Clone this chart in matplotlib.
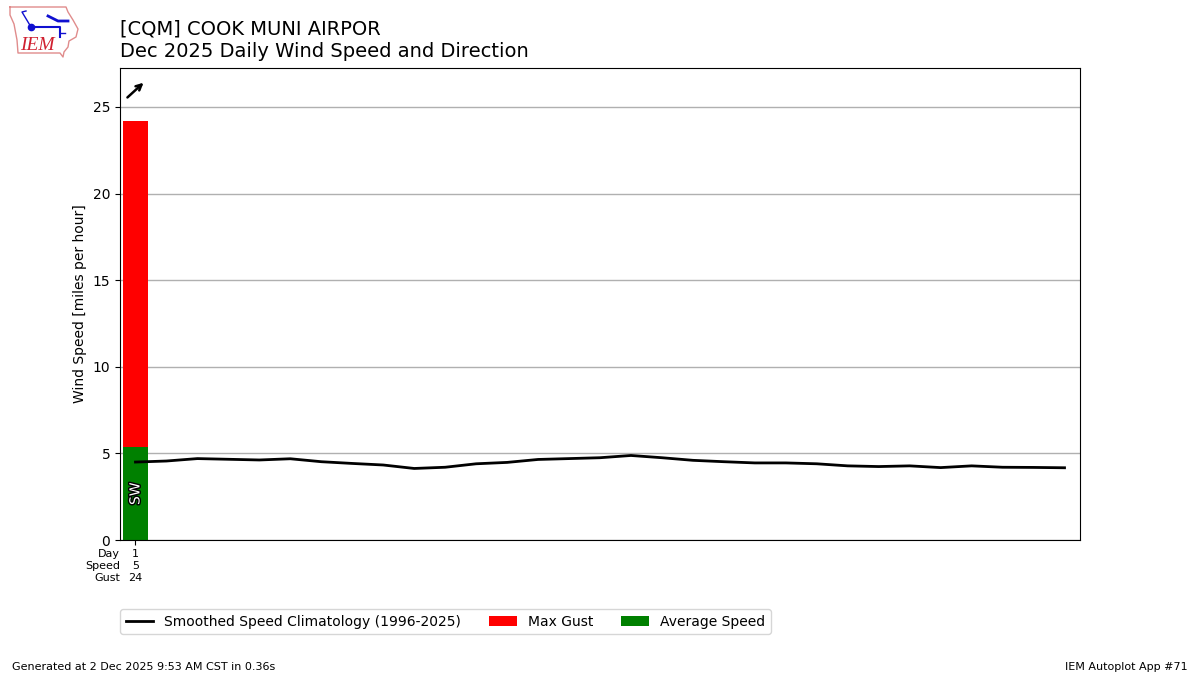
import matplotlib
matplotlib.use("Agg")
import matplotlib.pyplot as plt
import matplotlib.patheffects as pe
import numpy as np

days = list(range(1, 32))
climatology = [4.50, 4.56, 4.70, 4.66, 4.62, 4.69, 4.52, 4.42, 4.33, 4.13, 4.20,
               4.40, 4.48, 4.65, 4.70, 4.75, 4.88, 4.75, 4.60, 4.52, 4.45, 4.45,
               4.40, 4.28, 4.24, 4.28, 4.18, 4.28, 4.20, 4.19, 4.17]
obs_days = [1]
avg_speed = [5.35]
max_gust = [24.2]
directions = ["SW"]
row_names = ["Day", "Speed", "Gust"]
speed_labels = ["5"]
gust_labels = ["24"]

W, H = 1200, 675
fig = plt.figure(figsize=(12, 6.75), dpi=100)
ax = fig.add_axes([120 / W, 1 - 540 / H, 960 / W, 472 / H])

ax.bar(obs_days, max_gust, width=0.8, color="red", label="Max Gust", zorder=2)
ax.bar(obs_days, avg_speed, width=0.8, color="green", label="Average Speed", zorder=2)
ax.plot(days, climatology, color="k", lw=2,
        label="Smoothed Speed Climatology (1996-2025)", zorder=3)
ax.yaxis.grid(True, color="#b0b0b0", lw=1)
ax.set_axisbelow(True)
ax.set_xlim(0.5, 31.5)
ax.set_ylim(0, 27.25)
ax.set_xticks(obs_days)
ax.set_xticklabels([])
ax.set_ylabel("Wind Speed [miles per hour]", fontsize=10)
ax.yaxis.set_label_coords(-0.0345, 0.5)
ax.tick_params(axis="y", labelsize=10)

for d, g, s, name in zip(obs_days, max_gust, avg_speed, directions):
    ax.text(d, 2.67, name, rotation=90, ha="center", va="center", color="white",
            fontsize=10, zorder=5,
            path_effects=[pe.withStroke(linewidth=2, foreground="k")])
    ax.annotate("", xy=(d + 0.26, 26.4), xytext=(d - 0.26, 25.55),
                arrowprops=dict(arrowstyle="->", color="k", lw=1.8,
                                mutation_scale=10, shrinkA=0, shrinkB=0))

trans = ax.get_xaxis_transform()
for offset, name in zip((554, 566, 578), row_names):
    fig.text(120 / W, 1 - offset / H, name, ha="right", va="center", fontsize=8)
for d, sp, gu in zip(obs_days, speed_labels, gust_labels):
    for offset, val in zip((554, 566, 578), (str(d), sp, gu)):
        ax.annotate(val, xy=(d, 0), xycoords=trans,
                    xytext=(0, -(offset - 540) * 0.72), textcoords="offset points",
                    ha="center", va="center", fontsize=8)

fig.text(120 / W, 1 - 29 / H, "[CQM] COOK MUNI AIRPOR", fontsize=14, va="center")
fig.text(120 / W, 1 - 51.5 / H, "Dec 2025 Daily Wind Speed and Direction", fontsize=14, va="center")
fig.text(12 / W, 1 - 666.5 / H, "Generated at 2 Dec 2025 9:53 AM CST in 0.36s", fontsize=8, va="center")
fig.text(1188 / W, 1 - 666.5 / H, "IEM Autoplot App #71", fontsize=8, va="center", ha="right")

h, l = ax.get_legend_handles_labels()
order = [l.index("Smoothed Speed Climatology (1996-2025)"), l.index("Max Gust"), l.index("Average Speed")]
fig.legend([h[i] for i in order], [l[i] for i in order], ncol=3, fontsize=10,
           loc="upper left", bbox_to_anchor=(120 / W, 1 - 609 / H),
           borderaxespad=0, borderpad=0.4, columnspacing=2.0)

# Logo: Iowa outline with a station-plot sketch
logo = fig.add_axes([0, 1 - 60 / H, 84 / W, 60 / H])
logo.set_xlim(0, 84)
logo.set_ylim(60, 0)
logo.axis("off")
logo.plot([10, 66, 68, 73, 78, 76, 69, 68, 64, 63, 60, 18, 17, 14, 10, 10],
          [7, 7, 12, 20, 29, 37, 41, 47, 52, 57, 53, 53, 40, 24, 15, 7],
          color="#e08c8c", lw=1)
logo.plot([31, 60, 60], [27, 27, 37], color="#1010d0", lw=1.5)
logo.plot([31, 22, 26], [27, 12, 11], color="#1010d0", lw=1)
logo.plot([31], [27], "o", color="#1010d0", ms=4.5)
logo.plot([48, 58, 68], [16, 21, 21], color="#1010d0", lw=2)
logo.plot([60, 65], [33, 33], color="#1010d0", lw=1)
logo.text(37, 45.5, "IEM", color="#d02030", fontsize=14, family="Liberation Serif",
          style="italic", ha="center", va="center")

fig.savefig("out.png", dpi=100)
